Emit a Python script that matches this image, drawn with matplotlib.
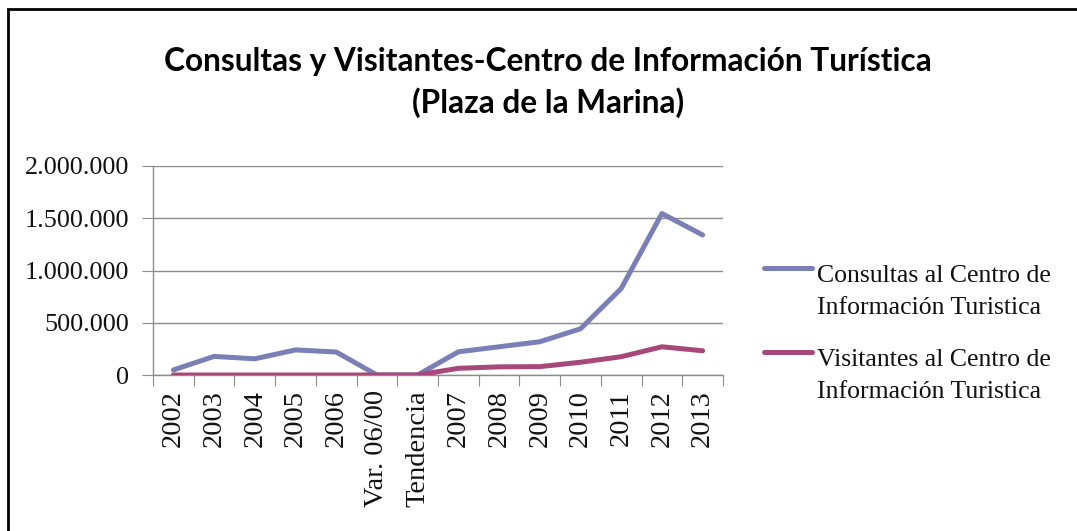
import matplotlib
matplotlib.use("Agg")
import matplotlib.pyplot as plt
from matplotlib.lines import Line2D
from matplotlib.patches import Rectangle
from matplotlib.ticker import FuncFormatter

categories = ["2002", "2003", "2004", "2005", "2006", "Var. 06/00", "Tendencia",
              "2007", "2008", "2009", "2010", "2011", "2012", "2013"]
consultas = [48000, 178000, 155000, 240000, 220000, 0, 0,
             222000, 270000, 318000, 442000, 828000, 1545000, 1340000]
visitantes = [0, 0, 0, 0, 0, 0, 0,
              64000, 78000, 80000, 122000, 175000, 270000, 232000]
series_names = [["Consultas al Centro de", "Información Turistica"],
                ["Visitantes al Centro de", "Información Turistica"]]
colors = ["#7a7fb6", "#a8487a"]
title_lines = ["Consultas y Visitantes-Centro de Información Turística", "(Plaza de la Marina)"]

W, H = 1077, 531
fig = plt.figure(figsize=(W / 100, H / 100), dpi=100)
serif = ["Liberation Serif", "DejaVu Serif"]

# outer frame
fig.add_artist(Rectangle((7.5 / W, -0.1), 1.2, 1 - 8.5 / H + 0.1, transform=fig.transFigure,
                         fill=False, edgecolor="black", linewidth=2))

ax = fig.add_axes([153 / W, 1 - 375 / H, (723 - 153) / W, (375 - 166) / H])
x = list(range(len(categories)))
ax.plot(x, consultas, color=colors[0], linewidth=3.6, solid_capstyle="round", solid_joinstyle="round", zorder=3)
ax.plot(x, visitantes, color=colors[1], linewidth=3.6, solid_capstyle="round", solid_joinstyle="round", zorder=3)

ax.set_xlim(-0.5, len(categories) - 0.5)
ax.set_ylim(0, 2000000)
ax.set_yticks([0, 500000, 1000000, 1500000, 2000000])
ax.yaxis.set_major_formatter(FuncFormatter(lambda v, p: f"{int(v):,}".replace(",", ".")))
ax.grid(axis="y", color="#8c8c8c", linewidth=1)
ax.set_axisbelow(True)
for s in ["top", "right"]:
    ax.spines[s].set_visible(False)
for s in ["left", "bottom"]:
    ax.spines[s].set_color("#8c8c8c")
    ax.spines[s].set_linewidth(1)

ax.set_xticks([i - 0.5 for i in range(len(categories) + 1)])
ax.set_xticklabels([])
ax.set_xticks(x, minor=True)
ax.set_xticklabels(categories, minor=True, rotation=90, fontfamily=serif, fontsize=20.5, color="#111111")
ax.tick_params(axis="x", which="major", length=8, color="#8c8c8c", direction="out")
ax.tick_params(axis="x", which="minor", length=0, pad=11)
ax.tick_params(axis="y", length=8, color="#8c8c8c", pad=9)
for lab in ax.get_yticklabels():
    lab.set_fontfamily(serif)
    lab.set_fontsize(18.8)
    lab.set_color("#111111")

title_baselines = [71, 113]
for txt, yb in zip(title_lines, title_baselines):
    fig.text(548 / W, 1 - yb / H, txt, ha="center", va="baseline", fontfamily=["Lato", "DejaVu Sans"],
             fontweight="bold", fontsize=22.8, color="black")

# legend
handle_y = [268, 352]
text_baselines = [[282, 314], [366, 398]]
for name, c, hy, bls in zip(series_names, colors, handle_y, text_baselines):
    fig.add_artist(Line2D([764 / W, 812 / W], [1 - hy / H, 1 - hy / H], transform=fig.transFigure,
                          color=c, linewidth=3.6, solid_capstyle="round"))
    for line, yb in zip(name, bls):
        fig.text(817 / W, 1 - yb / H, line, ha="left", va="baseline", fontfamily=serif,
                 fontsize=18.5, color="#111111")

fig.savefig("out.png", dpi=100, facecolor="white")
